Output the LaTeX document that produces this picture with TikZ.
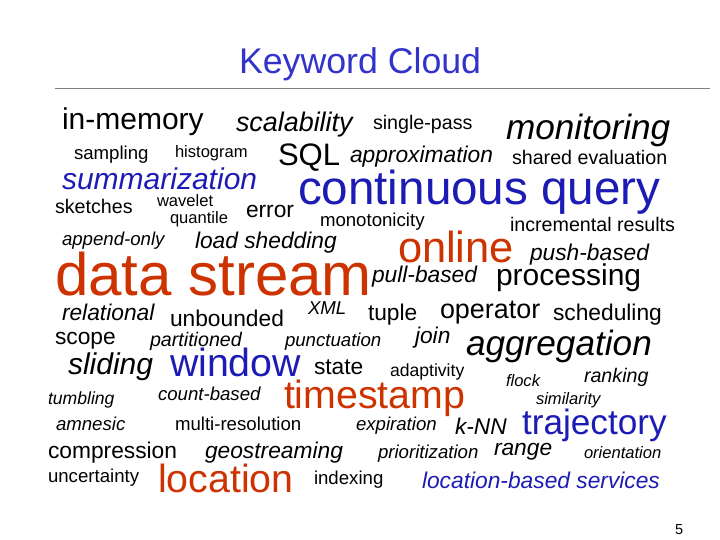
\documentclass[tikz,border=0pt]{standalone}
\usepackage{fontspec}
\setmainfont{Liberation Sans}
\definecolor{tblue}{HTML}{3333CC}
\definecolor{wblue}{HTML}{1C1CB4}
\definecolor{wred}{HTML}{CC3300}
\begin{document}
\begin{tikzpicture}[x=1pt,y=-1pt,
  w/.style={anchor=base west,inner sep=0pt,outer sep=0pt},
  fs/.style={font={\pgfmathsetmacro\fsz{#1*1.035}\fontsize{\fsz}{\fsz}\selectfont}},
  it/.style={font={\pgfmathsetmacro\fsz{#1*1.035}\fontsize{\fsz}{\fsz}\selectfont\itshape}}]
\useasboundingbox (0,0) rectangle (720,540);
\node[w,fs=34.5,text=tblue] (title) at (239,74) {Keyword Cloud};
\coordinate (l1) at (55,88); \coordinate (l2) at (710,88);
\draw[gray,line width=0.6pt] (l1) -- (l2);
\node[w,fs=29] (a1) at (62,130) {in-memory};
\node[w,it=26] (a2) at (236,132) {scalability};
\node[w,fs=19] (a3) at (373,130) {single-pass};
\node[w,it=34] (a4) at (506,140) {monitoring};
\node[w,fs=18] (a5) at (74,160) {sampling};
\node[w,fs=16] (a6) at (175,158) {histogram};
\node[w,fs=30] (a7) at (278,166) {SQL};
\node[w,it=22] (a8) at (350,163) {approximation};
\node[w,fs=19] (a9) at (512,165) {shared evaluation};
\node[w,it=29,text=wblue] (a10) at (62,190) {summarization};
\node[w,fs=46,text=wblue] (a11) at (298,205) {continuous query};
\node[w,fs=19] (a12) at (55,214) {sketches};
\node[w,fs=16] (a13) at (157,207) {wavelet};
\node[w,fs=16] (a14) at (170,224) {quantile};
\node[w,fs=22] (a15) at (246,218) {error};
\node[w,fs=18] (a16) at (320,226) {monotonicity};
\node[w,fs=19] (a17) at (510,232) {incremental results};
\node[w,it=18] (a18) at (62,245) {append-only};
\node[w,it=22] (a19) at (195,248) {load shedding};
\node[w,fs=42,text=wred] (a20) at (398,262) {online};
\node[w,it=22] (a21) at (530,260) {push-based};
\node[w,fs=58,text=wred] (a22) at (55,295) {data stream};
\node[w,it=22] (a23) at (372,282) {pull-based};
\node[w,fs=29] (a24) at (496,285) {processing};
\node[w,it=22] (a25) at (62,320) {relational};
\node[w,fs=22] (a26) at (170,326) {unbounded};
\node[w,it=18] (a27) at (308,314) {XML};
\node[w,fs=22] (a28) at (368,320) {tuple};
\node[w,fs=26] (a29) at (440,318) {operator};
\node[w,fs=22] (a30) at (553,320) {scheduling};
\node[w,fs=22] (a31) at (55,344) {scope};
\node[w,it=19] (a32) at (150,346) {partitioned};
\node[w,it=18] (a33) at (285,346) {punctuation};
\node[w,it=22] (a34) at (415,343) {join};
\node[w,it=34] (a35) at (466,355) {aggregation};
\node[w,it=29] (a36) at (68,374) {sliding};
\node[w,fs=38,text=wblue] (a37) at (170,376) {window};
\node[w,fs=22] (a38) at (314,374) {state};
\node[w,fs=17] (a39) at (390,376) {adaptivity};
\node[w,it=16] (a40) at (506,386) {flock};
\node[w,it=19] (a41) at (584,382) {ranking};
\node[w,it=17] (a42) at (48,404) {tumbling};
\node[w,it=18] (a43) at (158,400) {count-based};
\node[w,fs=38,text=wred] (a44) at (284,408) {timestamp};
\node[w,it=16] (a45) at (536,404) {similarity};
\node[w,it=18] (a46) at (56,430) {amnesic};
\node[w,fs=18] (a47) at (175,430) {multi-resolution};
\node[w,it=18] (a48) at (356,430) {expiration};
\node[w,it=22] (a49) at (455,434) {k-NN};
\node[w,fs=34,text=wblue] (a50) at (522,434) {trajectory};
\node[w,fs=22] (a51) at (48,458) {compression};
\node[w,it=22] (a52) at (205,458) {geostreaming};
\node[w,it=18] (a53) at (378,458) {prioritization};
\node[w,it=22] (a54) at (494,455) {range};
\node[w,it=16] (a55) at (584,458) {orientation};
\node[w,fs=18] (a56) at (48,482) {uncertainty};
\node[w,fs=38,text=wred] (a57) at (158,492) {location};
\node[w,fs=18] (a58) at (314,484) {indexing};
\node[w,it=22,text=wblue] (a59) at (422,488) {location-based services};
\node[w,fs=14] (pg) at (675,534) {5};
\end{tikzpicture}
\end{document}
